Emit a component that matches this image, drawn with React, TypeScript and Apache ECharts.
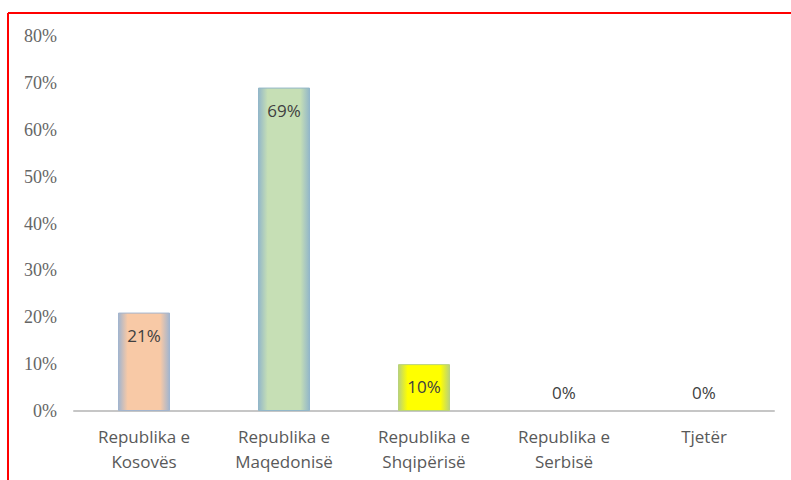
import React, { useEffect, useRef } from "react";
import * as echarts from "echarts";

const categories = [
  "Republika e\nKosovës",
  "Republika e\nMaqedonisë",
  "Republika e\nShqipërisë",
  "Republika e\nSerbisë",
  "Tjetër",
];
const values = [21, 69, 10, 0, 0];

const fills = ["#F8C9A6", "#C6DFB5", "#FFFF00", "#FFFFFF", "#FFFFFF"];
const edges = ["#A3B5CE", "#93B7C9", "#B9D27A", "#FFFFFF", "#FFFFFF"];

export default function App() {
  const ref = useRef<HTMLDivElement>(null);
  useEffect(() => {
    const chart = echarts.init(ref.current!, null, { renderer: "svg" });
    const data = values.map((v, i) => ({
      value: v,
      itemStyle: {
        color: new echarts.graphic.LinearGradient(0, 0, 1, 0, [
          { offset: 0, color: edges[i] },
          { offset: 0.18, color: fills[i] },
          { offset: 0.82, color: fills[i] },
          { offset: 1, color: edges[i] },
        ]),
        borderColor: v > 0 ? edges[i] : "transparent",
        borderWidth: v > 0 ? 1 : 0,
      },
      label:
        v > 0
          ? { position: "insideTop", distance: 14 }
          : { position: "top", distance: 10 },
    }));
    chart.setOption({
      animation: false,
      backgroundColor: "#ffffff",
      grid: { left: 74, right: 17, top: 36, bottom: 69, containLabel: false },
      xAxis: {
        type: "category",
        data: categories,
        axisLine: { show: true, lineStyle: { color: "#c6c6c6", width: 2 } },
        axisTick: { show: false },
        axisLabel: {
          color: "#595959",
          fontFamily: "Open Sans",
          fontSize: 17,
          lineHeight: 25,
          margin: 13,
          interval: 0,
        },
      },
      yAxis: {
        type: "value",
        min: 0,
        max: 80,
        interval: 10,
        splitLine: { show: false },
        axisLine: { show: false },
        axisTick: { show: false },
        axisLabel: {
          formatter: "{value}%",
          color: "#666666",
          fontFamily: "Liberation Serif",
          fontSize: 18,
          margin: 17,
        },
      },
      series: [
        {
          type: "bar",
          data,
          barWidth: 52,
          label: {
            show: true,
            formatter: "{c}%",
            color: "#404040",
            fontFamily: "Open Sans",
            fontSize: 17,
          },
        },
      ],
      graphic: [
        {
          type: "line",
          shape: { x1: 8, y1: 13, x2: 791, y2: 13 },
          style: { stroke: "#ff0000", lineWidth: 2 },
        },
        {
          type: "line",
          shape: { x1: 8, y1: 13, x2: 8, y2: 480 },
          style: { stroke: "#ff0000", lineWidth: 2 },
        },
      ],
    });
    return () => chart.dispose();
  }, []);
  return (
    <div
      ref={ref}
      style={{ position: "fixed", left: 0, top: 0, width: 791, height: 480 }}
    />
  );
}
